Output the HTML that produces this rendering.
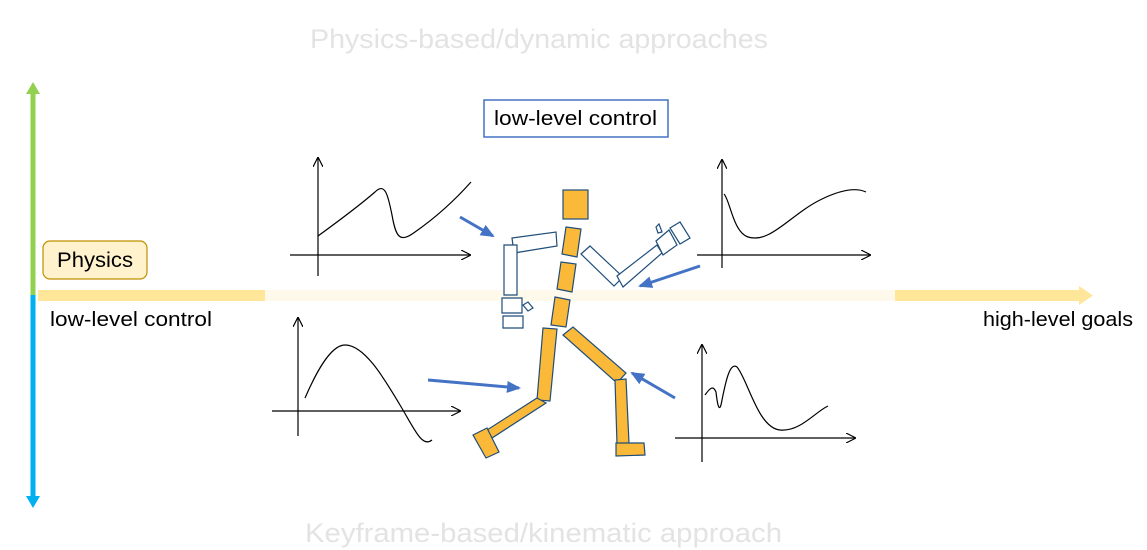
<!DOCTYPE html>
<html><head><meta charset="utf-8"><style>
html,body{margin:0;padding:0;background:#fff;}
svg{display:block;font-family:"Liberation Sans","DejaVu Sans",sans-serif;}
</style></head><body>
<svg width="1147" height="550" viewBox="0 0 1147 550">
<defs>
<marker id="ah" markerWidth="10" markerHeight="10" refX="9" refY="5" orient="auto" markerUnits="userSpaceOnUse"><path d="M0,0 L10,5 L0,10" fill="none" stroke="#000" stroke-width="1.2"/></marker>
<marker id="bh" markerWidth="14" markerHeight="12" refX="12" refY="6" orient="auto" markerUnits="userSpaceOnUse"><path d="M0,0 L14,6 L0,12 z" fill="#4472C4"/></marker>
</defs>
<text x="310" y="48" textLength="458" lengthAdjust="spacingAndGlyphs" font-size="27" fill="#e3e3e3">Physics-based/dynamic approaches</text>
<text x="305" y="542" textLength="477" lengthAdjust="spacingAndGlyphs" font-size="27" fill="#e3e3e3">Keyframe-based/kinematic approach</text>
<g>
<rect x="30.5" y="92" width="5" height="203" fill="#92D050"/>
<path d="M26,94 L33,82 L40,94 z" fill="#92D050"/>
<rect x="30.5" y="295" width="5" height="202" fill="#00B0F0"/>
<path d="M26,496 L33,508 L40,496 z" fill="#00B0F0"/>
</g>
<g>
<rect x="38" y="290" width="227" height="11" fill="#FFE699"/>
<rect x="265" y="290" width="630" height="11" fill="#FFF9EC"/>
<rect x="895" y="290" width="185" height="11" fill="#FFE699"/>
<path d="M1079,286 L1093,295.5 L1079,305 z" fill="#FFE699"/>
</g>
<g>
<rect x="43" y="241" width="104" height="38" rx="7" fill="#FFF2CC" stroke="#BF9000" stroke-width="1.2"/>
<text x="57" y="267" textLength="76" lengthAdjust="spacingAndGlyphs" font-size="21" fill="#000">Physics</text>
</g>
<text x="50" y="326" textLength="162" lengthAdjust="spacingAndGlyphs" font-size="20" fill="#000">low-level control</text>
<text x="983" y="326" textLength="150" lengthAdjust="spacingAndGlyphs" font-size="20" fill="#000">high-level goals</text>
<g>
<rect x="484" y="100" width="184" height="37" fill="#fff" stroke="#4472C4" stroke-width="1.5"/>
<text x="494" y="125" textLength="163" lengthAdjust="spacingAndGlyphs" font-size="20" fill="#000">low-level control</text>
</g>
<g stroke="#000" stroke-width="1.2" fill="none">
<line x1="318" y1="276" x2="318" y2="158" marker-end="url(#ah)"/>
<line x1="290" y1="255" x2="470" y2="255" marker-end="url(#ah)"/>
<path d="M318,236 C340,220 360,205 375,192 C385,182 388,195 392,215 C396,238 400,243 415,232 C435,218 455,200 471,182"/>
<line x1="722" y1="268" x2="722" y2="160" marker-end="url(#ah)"/>
<line x1="697" y1="255" x2="870" y2="255" marker-end="url(#ah)"/>
<path d="M724,194 C730,200 733,232 748,237 C770,244 790,215 820,200 C840,190 855,187 866,192"/>
<line x1="298" y1="436" x2="298" y2="318" marker-end="url(#ah)"/>
<line x1="272" y1="411" x2="460" y2="411" marker-end="url(#ah)"/>
<path d="M305,398 C315,375 330,345 345,345 C365,345 385,380 400,405 C415,430 422,448 432,440"/>
<line x1="702" y1="462" x2="702" y2="345" marker-end="url(#ah)"/>
<line x1="675" y1="438" x2="855" y2="438" marker-end="url(#ah)"/>
<path d="M705,395 C710,388 713,385 716,392 C718,410 720,412 722,400 C726,380 730,362 737,367 C748,380 758,428 780,430 C800,432 815,412 828,406"/>
</g>
<g stroke="#4472C4" stroke-width="3">
<line x1="460" y1="217" x2="493" y2="236" marker-end="url(#bh)"/>
<line x1="700" y1="266" x2="640" y2="286" marker-end="url(#bh)"/>
<line x1="428" y1="380" x2="519" y2="388" marker-end="url(#bh)"/>
<line x1="675" y1="398" x2="632" y2="373" marker-end="url(#bh)"/>
</g>
<g fill="#FFFFFF" stroke="#1F4E79" stroke-width="1.2">
<polygon points="512,238 556,232 557,246 514,253"/>
<polygon points="504,245 517,245 517,295 504,295"/>
<polygon points="502,298 522,298 522,313 502,313"/>
<polygon points="523,305 528,302 533,308 528,311"/>
<polygon points="503,316 523,316 523,328 503,328"/>
<polygon points="581,254 590,246 623,277 614,286"/>
<polygon points="617,276 657,245 662,253 623,287"/>
<polygon points="656,241 669,230 677,245 663,255"/>
<polygon points="670,228 680,222 690,238 680,244"/>
<polygon points="656,227 659,224 662,232 658,233"/>
</g>
<g fill="#FBB93A" stroke="#1F4E79" stroke-width="1.2">
<rect x="563" y="190" width="25" height="29"/>
<polygon points="566,227 581,229 577,257 562,254"/>
<polygon points="561,262 576,264 572,292 557,289"/>
<polygon points="555,297 570,300 566,327 551,325"/>
<polygon points="543,328 557,329 550,401 537,400"/>
<polygon points="537,398 546,403 492,438 487,430"/>
<polygon points="473,435 487,428 499,452 486,458"/>
<polygon points="563,335 573,327 626,373 617,383"/>
<polygon points="615,380 626,379 629,443 617,444"/>
<polygon points="616,443 644,443 645,455 616,456"/>
</g>
</svg>
</body></html>
